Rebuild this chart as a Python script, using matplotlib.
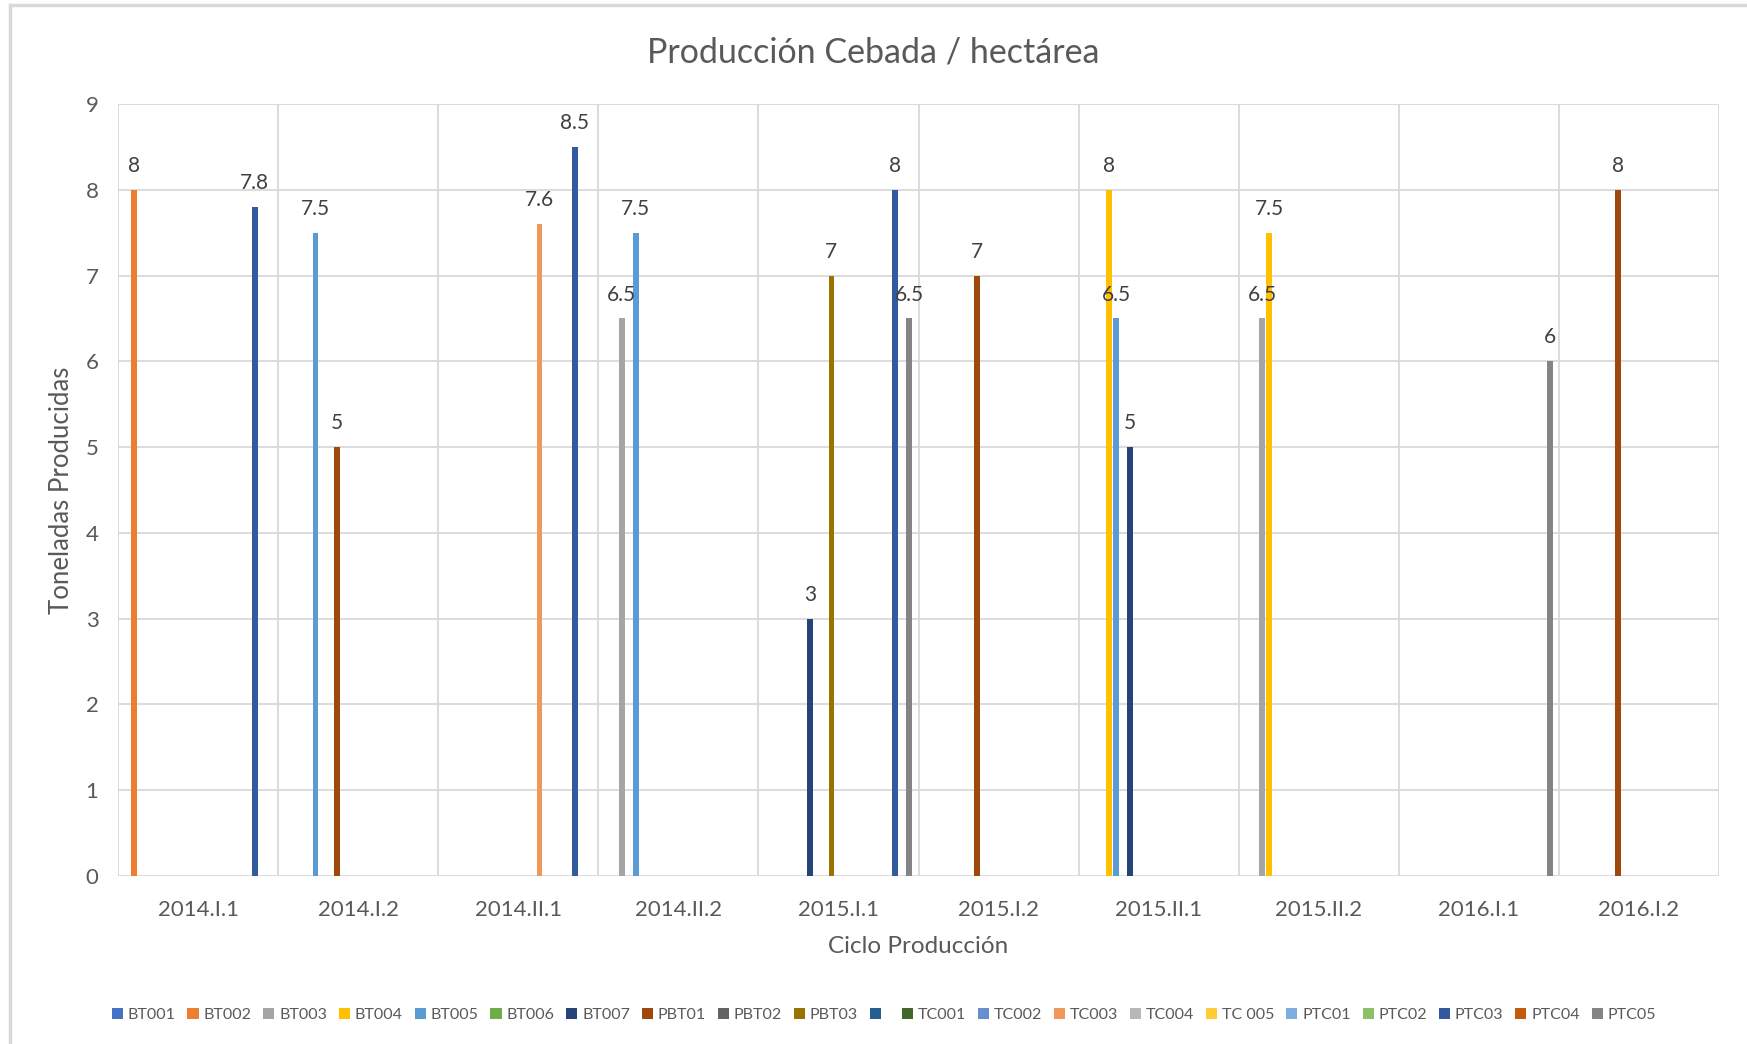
import numpy as np
import matplotlib
matplotlib.use("Agg")
import matplotlib.pyplot as plt
from matplotlib.patches import Patch
from matplotlib.lines import Line2D

plt.rcParams['font.family'] = ['Lato', 'DejaVu Sans']

categories = ["2014.I.1", "2014.I.2", "2014.II.1", "2014.II.2", "2015.I.1",
              "2015.I.2", "2015.II.1", "2015.II.2", "2016.I.1", "2016.I.2"]

series_names = ["BT001", "BT002", "BT003", "BT004", "BT005", "BT006", "BT007",
                "PBT01", "PBT02", "PBT03", " ", "TC001", "TC002", "TC003",
                "TC004", "TC 005", "PTC01", "PTC02", "PTC03", "PTC04", "PTC05"]

series_colors = ["#4472C4", "#ED7D31", "#A5A5A5", "#FFC000", "#5B9BD5", "#70AD47",
                 "#264478", "#9E480E", "#636363", "#997300", "#255E91", "#43682B",
                 "#698ED0", "#F1975A", "#B7B7B7", "#FFCD33", "#7CAFDD", "#8CC168",
                 "#335AA1", "#C55A11", "#848484"]

N = None
BT001 = [N, N, N, N, N, N, N, N, N, N]
BT002 = [8, N, N, N, N, N, N, N, N, N]
BT003 = [N, N, N, 6.5, N, N, N, 6.5, N, N]
BT004 = [N, N, N, N, N, N, 8, 7.5, N, N]
BT005 = [N, 7.5, N, 7.5, N, N, 6.5, N, N, N]
BT006 = [N, N, N, N, N, N, N, N, N, N]
BT007 = [N, N, N, N, 3, N, 5, N, N, N]
PBT01 = [N, 5, N, N, N, 7, N, N, N, 8]
PBT02 = [N, N, N, N, N, N, N, N, N, N]
PBT03 = [N, N, N, N, 7, N, N, N, N, N]
BLANK = [N, N, N, N, N, N, N, N, N, N]
TC001 = [N, N, N, N, N, N, N, N, N, N]
TC002 = [N, N, N, N, N, N, N, N, N, N]
TC003 = [N, N, 7.6, N, N, N, N, N, N, N]
TC004 = [N, N, N, N, N, N, N, N, N, N]
TC005 = [N, N, N, N, N, N, N, N, N, N]
PTC01 = [N, N, N, N, N, N, N, N, N, N]
PTC02 = [N, N, N, N, N, N, N, N, N, N]
PTC03 = [7.8, N, 8.5, N, 8, N, N, N, N, N]
PTC04 = [N, N, N, N, N, N, N, N, N, N]
PTC05 = [N, N, N, N, 6.5, N, N, N, 6, N]

series_values = [BT001, BT002, BT003, BT004, BT005, BT006, BT007, PBT01, PBT02,
                 PBT03, BLANK, TC001, TC002, TC003, TC004, TC005, PTC01, PTC02,
                 PTC03, PTC04, PTC05]

TEXT = "#595959"
GRID = "#D9D9D9"

fig = plt.figure(figsize=(17.47, 10.44), dpi=100)
ax = fig.add_axes([118 / 1747, 1 - 876 / 1044, (1719 - 118) / 1747, (876 - 104) / 1044])

n = len(series_names)
slot = 1.0 / (n + 1.6)
x = np.arange(len(categories))

for i, (vals, col) in enumerate(zip(series_values, series_colors)):
    offset = (i - (n - 1) / 2) * slot
    for k, v in enumerate(vals):
        if v is None:
            continue
        ax.bar(x[k] + offset, v, width=slot * 0.8, color=col, zorder=3)
        ax.annotate(f"{v:g}", (x[k] + offset, v), xytext=(0, 10),
                    textcoords="offset points", ha="center", va="bottom",
                    fontsize=15, color="#404040", zorder=4)

ax.set_xlim(-0.5, len(categories) - 0.5)
ax.set_ylim(0, 9)
for s in ax.spines.values():
    s.set_visible(False)
for yv in range(0, 10):
    ax.axhline(yv, color=GRID, lw=1.3, zorder=1)
for xb in np.arange(-0.5, len(categories), 1.0):
    ax.axvline(xb, color=GRID, lw=1.3, zorder=1)

ax.set_yticks(range(0, 10))
ax.set_xticks(x)
ax.set_xticklabels(categories)
ax.tick_params(axis="both", length=0, labelsize=16, labelcolor=TEXT)
ax.tick_params(axis="y", pad=14)
ax.tick_params(axis="x", pad=17)

ax.set_ylabel("Toneladas Producidas", fontsize=18.5, color=TEXT, labelpad=8)
ax.set_xlabel("Ciclo Producción", fontsize=17.5, color=TEXT, labelpad=12)

fig.text(0.5, 0.95, "Producción Cebada / hectárea", ha="center", va="center",
         fontsize=24.5, color=TEXT)

handles = [Patch(facecolor=c, edgecolor="none") for c in series_colors]
fig.legend(handles, series_names, loc="center", bbox_to_anchor=(0.506, 0.028),
           ncol=n, frameon=False, fontsize=11.5, labelcolor=TEXT,
           handlelength=0.7, handleheight=0.7, handletextpad=0.3,
           columnspacing=0.74)

# chart frame (left and top edges)
fig.add_artist(Line2D([10 / 1747, 10 / 1747], [0, 1 - 5 / 1044], color=GRID, lw=2.5))
fig.add_artist(Line2D([10 / 1747, 1], [1 - 5 / 1044, 1 - 5 / 1044], color=GRID, lw=2.5))

fig.savefig("out.png", dpi=100)
